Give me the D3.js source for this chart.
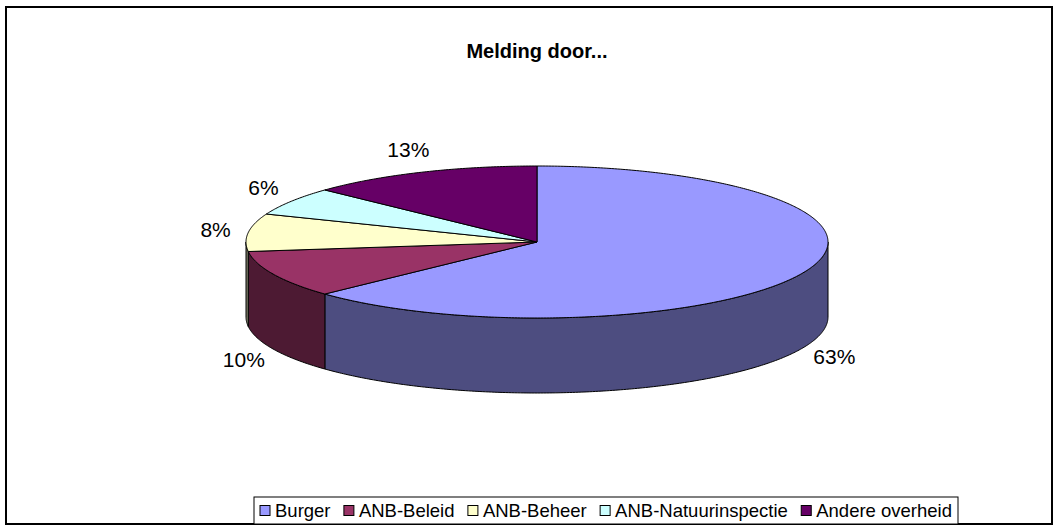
<!DOCTYPE html>
<html>
<head>
<meta charset="utf-8">
<script src="https://cdn.jsdelivr.net/npm/d3@7"></script>
<style>
  body { margin: 0; background: #fff; }
  svg { display: block; font-family: Arial, "Liberation Sans", sans-serif; }
</style>
</head>
<body>
<div id="chart"></div>
<script>
// data
var categories = ["Burger", "ANB-Beleid", "ANB-Beheer", "ANB-Natuurinspectie", "Andere overheid"];
var values = [63, 10, 8, 6, 13];
var topColors = ["#9999FF", "#993366", "#FFFFCC", "#CCFFFF", "#660066"];
var sideColors = ["#4D4D80", "#4D1A33", "#80806A", "#6A8080", "#330033"];
var chartTitle = "Melding door...";

var width = 1059, height = 530;
var cx = 537, cy = 242, rx = 291, ry = 76, depth = 75;

var svg = d3.select("#chart").append("svg")
    .attr("width", width)
    .attr("height", height);

svg.append("rect").attr("width", width).attr("height", height).attr("fill", "#fff");

// outer frame
svg.append("rect")
    .attr("x", 6).attr("y", 7)
    .attr("width", 1046).attr("height", 517)
    .attr("fill", "none").attr("stroke", "#000").attr("stroke-width", 2);

svg.append("text")
    .attr("x", cx).attr("y", 58)
    .attr("text-anchor", "middle")
    .attr("font-size", "20px").attr("font-weight", "bold")
    .text(chartTitle);

// pie angles, clockwise from 12 o'clock
var pie = d3.pie().sort(null).startAngle(0).endAngle(2 * Math.PI);
var arcs = pie(values).map(function(d, i) { d.i = i; return d; });

function px(a) { return cx + rx * Math.sin(a); }
function py(a) { return cy - ry * Math.cos(a); }

function arcPoints(a0, a1) {
    var n = Math.max(2, Math.ceil((a1 - a0) / 0.01));
    return d3.range(n + 1).map(function(k) {
        var a = a0 + (a1 - a0) * k / n;
        return [px(a), py(a)];
    });
}

var line = d3.line();

// side walls: only the front half (angles between PI/2 and 3PI/2)
var sides = svg.append("g");
arcs.forEach(function(d) {
    var a0 = Math.max(d.startAngle, Math.PI / 2);
    var a1 = Math.min(d.endAngle, 3 * Math.PI / 2);
    if (a1 <= a0) return;
    var topPts = arcPoints(a0, a1);
    var botPts = topPts.slice().reverse().map(function(p) { return [p[0], p[1] + depth]; });
    sides.append("path")
        .attr("d", line(topPts.concat(botPts)) + "Z")
        .attr("fill", sideColors[d.i])
        .attr("stroke", "#000").attr("stroke-width", 1);
});

// top faces
var tops = svg.append("g");
arcs.forEach(function(d) {
    var pts = [[cx, cy]].concat(arcPoints(d.startAngle, d.endAngle));
    tops.append("path")
        .attr("d", line(pts) + "Z")
        .attr("fill", topColors[d.i])
        .attr("stroke", "#000").attr("stroke-width", 1)
        .attr("stroke-linejoin", "round");
});

// percentage labels
var total = d3.sum(values);
var labelSize = 21;
svg.append("g").selectAll("text")
    .data(arcs)
    .enter()
    .append("text")
    .attr("text-anchor", "middle")
    .attr("font-size", labelSize + "px")
    .attr("x", function(d) {
        var a = (d.startAngle + d.endAngle) / 2;
        return cx + (rx + 33) * Math.sin(a);
    })
    .attr("y", function(d) {
        var a = (d.startAngle + d.endAngle) / 2;
        var c = Math.cos(a);
        return cy - (ry + 25) * c + (c < 0 ? depth : 0) + labelSize * 0.35;
    })
    .text(function(d) { return Math.round(d.value / total * 100) + "%"; });

// legend
var legendSize = 18.5;
var lx = 254, ly = 497, lw = 704, lh = 27;
var legend = svg.append("g");
legend.append("rect")
    .attr("x", lx).attr("y", ly).attr("width", lw).attr("height", lh)
    .attr("fill", "#fff").attr("stroke", "#000").attr("stroke-width", 1);

var items = categories.map(function(name, i) {
    var t = legend.append("text")
        .attr("y", ly + lh / 2 + legendSize * 0.36)
        .attr("font-size", legendSize + "px")
        .text(name);
    return { text: t, w: t.node().getComputedTextLength(), i: i };
});
var used = d3.sum(items, function(d) { return d.w + 15; });
var gap = (lw - 12 - used) / (items.length - 1);
var cursor = lx + 6;
items.forEach(function(d) {
    legend.append("rect")
        .attr("x", cursor).attr("y", ly + lh / 2 - 5)
        .attr("width", 10).attr("height", 10)
        .attr("fill", topColors[d.i]).attr("stroke", "#000").attr("stroke-width", 1);
    d.text.attr("x", cursor + 15);
    cursor += 15 + d.w + gap;
});
</script>
</body>
</html>
